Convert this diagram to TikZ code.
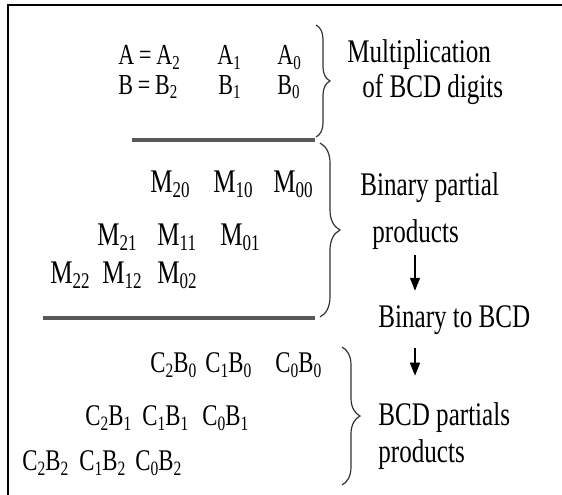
\documentclass[tikz,border=0pt]{standalone}
\usepackage{fontspec}
\setmainfont[FakeStretch=0.76]{Liberation Serif}
\usetikzlibrary{arrows.meta,decorations.pathreplacing}

% lowered index digits
\newcommand{\lo}[1]{\raisebox{-.17em}{\scalebox{.68}{#1}}}

\begin{document}
\begin{tikzpicture}[x=1pt, y=-1pt, thick,
    txt/.style = {anchor=base west, inner sep=0pt, text=black, font=\fontsize{33}{38}\selectfont},
    ab/.style = {txt, font=\fontsize{29}{33}\selectfont},
    cb/.style = {txt, font=\fontsize{30}{34}\selectfont},
    rule/.style = {line width=3.5pt, black!65},
    brc/.style = {decorate, line width=1.2pt, black!80},
    arr/.style = {-{Triangle[length=13pt, width=10pt]}, line width=1.5pt}]
    \useasboundingbox (0,0) rectangle (562,495);
    \draw[line width=2pt] (8,495) -- (8,5) -- (562,5);

    % the two BCD digits
    \node[ab] (a2) at (118,65) {A\,=\,A\lo{2}};
    \node[ab] (a1) at (217,65) {A\lo{1}};
    \node[ab] (a0) at (277,65) {A\lo{0}};
    \node[ab] (b2) at (118,94) {B\,=\,B\lo{2}};
    \node[ab] (b1) at (218,94) {B\lo{1}};
    \node[ab] (b0) at (277,94) {B\lo{0}};
    \draw[rule] (132,140) -- (315,140);

    % binary partial products
    \node[txt] (m20) at (150,192) {M\lo{20}};
    \node[txt] (m10) at (213,192) {M\lo{10}};
    \node[txt] (m00) at (273,192) {M\lo{00}};
    \node[txt] (m21) at (97,245) {M\lo{21}};
    \node[txt] (m11) at (157,245) {M\lo{11}};
    \node[txt] (m01) at (220,245) {M\lo{01}};
    \node[txt] (m22) at (50,283) {M\lo{22}};
    \node[txt] (m12) at (102,283) {M\lo{12}};
    \node[txt] (m02) at (157,283) {M\lo{02}};
    \draw[rule] (43,318) -- (315,318);

    % BCD partial products
    \node[cb] (c2b0) at (150,372) {C\lo{2}B\lo{0}};
    \node[cb] (c1b0) at (205,372) {C\lo{1}B\lo{0}};
    \node[cb] (c0b0) at (275,372) {C\lo{0}B\lo{0}};
    \node[cb] (c2b1) at (85,425) {C\lo{2}B\lo{1}};
    \node[cb] (c1b1) at (142,425) {C\lo{1}B\lo{1}};
    \node[cb] (c0b1) at (202,425) {C\lo{0}B\lo{1}};
    \node[cb] (c2b2) at (22,470) {C\lo{2}B\lo{2}};
    \node[cb] (c1b2) at (79,470) {C\lo{1}B\lo{2}};
    \node[cb] (c0b2) at (135,470) {C\lo{0}B\lo{2}};

    % braces
    \draw[brc, decoration={brace, amplitude=14pt}] (316,25) -- (316,137);
    \draw[brc, decoration={brace, amplitude=20pt}] (320,143) -- (320,317);
    \draw[brc, decoration={brace, amplitude=18pt}] (342,347) -- (342,485);

    % labels on the right
    \node[txt] (l1) at (347,63) {Multiplication};
    \node[txt] (l2) at (362,97) {of BCD digits};
    \node[txt] (l3) at (360,195) {Binary partial};
    \node[txt] (l4) at (372,242) {products};
    \node[txt] (l5) at (378,327) {Binary to BCD};
    \node[txt] (l6) at (378,425) {BCD partials};
    \node[txt] (l7) at (378,462) {products};

    \coordinate (k) at (415,0);
    \draw[arr, shorten <=6pt, shorten >=14pt] (k |- l4.south) -- (k |- l5.north);
    \draw[arr, shorten <=13pt, shorten >=26pt] (k |- l5.south) -- (k |- l6.north);
\end{tikzpicture}
\end{document}
